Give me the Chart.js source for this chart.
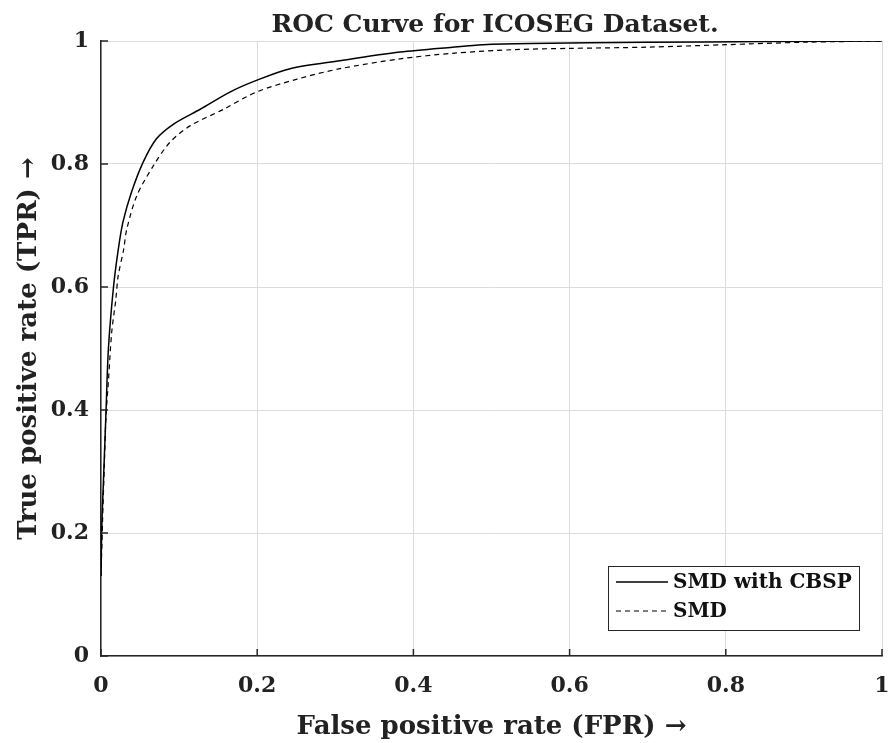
<!DOCTYPE html>
<html>
<head>
<meta charset="utf-8">
<script src="https://cdn.jsdelivr.net/npm/chart.js@4.4.1/dist/chart.umd.min.js"></script>
<style>
html,body{margin:0;padding:0;background:#fff;}
#wrap{width:893px;height:743px;}
</style>
</head>
<body>
<div id="wrap"><canvas id="c" width="893" height="743"></canvas></div>
<script>
const chartTitle = "ROC Curve for ICOSEG Dataset.";
const xTitle = "False positive rate (FPR) \u2192";
const yTitle = "True positive rate (TPR) \u2192";
const seriesNames = ["SMD with CBSP", "SMD"];
const tickValues = [0, 0.2, 0.4, 0.6, 0.8, 1];

const fprCBSP = [0, 0.001, 0.003, 0.0065, 0.0095, 0.016, 0.022, 0.028, 0.039, 0.054, 0.071, 0.093, 0.127, 0.165, 0.199, 0.242, 0.306, 0.383, 0.45, 0.489, 0.55, 0.7, 0.85, 1];
const tprCBSP = [0.13, 0.21, 0.28, 0.40, 0.50, 0.60, 0.66, 0.705, 0.754, 0.803, 0.841, 0.865, 0.889, 0.917, 0.936, 0.955, 0.968, 0.982, 0.99, 0.994, 0.996, 0.998, 0.999, 1];

const fprSMD = [0, 0.002, 0.004, 0.0064, 0.0094, 0.0137, 0.019, 0.022, 0.029, 0.033, 0.046, 0.067, 0.088, 0.114, 0.157, 0.199, 0.251, 0.306, 0.383, 0.45, 0.53, 0.6, 0.7, 0.8, 0.9, 1];
const tprSMD = [0.13, 0.22, 0.30, 0.39, 0.445, 0.526, 0.58, 0.618, 0.661, 0.694, 0.749, 0.797, 0.835, 0.862, 0.889, 0.917, 0.938, 0.955, 0.971, 0.98, 0.986, 0.988, 0.99, 0.994, 0.998, 1];

const FONT = "'DejaVu Serif', serif";
const pts = (xs, ys) => xs.map((x, i) => ({x: x, y: ys[i]}));

const innerTicks = {
  id: 'innerTicks',
  afterDatasetsDraw(chart) {
    const ctx = chart.ctx, a = chart.chartArea;
    const xs = chart.scales.x, ys = chart.scales.y;
    ctx.save();
    ctx.strokeStyle = '#262626';
    ctx.lineWidth = 1.5;
    ctx.beginPath();
    tickValues.forEach(v => {
      const px = xs.getPixelForValue(v);
      ctx.moveTo(px, a.bottom); ctx.lineTo(px, a.bottom - 7);
      const py = ys.getPixelForValue(v);
      ctx.moveTo(a.left, py); ctx.lineTo(a.left + 7, py);
    });
    ctx.stroke();
    // title
    ctx.fillStyle = '#222';
    ctx.font = "bold 25px " + FONT;
    ctx.textAlign = 'center';
    ctx.textBaseline = 'alphabetic';
    ctx.fillText(chartTitle, 495, 32);
    // legend
    const bx = 608, by = 566, bw = 251, bh = 64;
    ctx.fillStyle = '#fff';
    ctx.fillRect(bx, by, bw, bh);
    ctx.strokeStyle = '#262626';
    ctx.lineWidth = 1;
    ctx.strokeRect(bx + 0.5, by + 0.5, bw, bh);
    ctx.font = "bold 20px " + FONT;
    ctx.textAlign = 'left';
    ctx.textBaseline = 'middle';
    chart.data.datasets.forEach((ds, i) => {
      const yy = by + 16 + i * 29;
      ctx.save();
      ctx.strokeStyle = '#000';
      ctx.lineWidth = ds.borderWidth;
      ctx.setLineDash(ds.borderDash || []);
      ctx.beginPath();
      ctx.moveTo(bx + 8, yy); ctx.lineTo(bx + 60, yy);
      ctx.stroke();
      ctx.restore();
      ctx.fillStyle = '#111';
      ctx.fillText(ds.label, bx + 65, yy + 1);
    });
    ctx.restore();
  }
};

new Chart(document.getElementById('c'), {
  type: 'line',
  data: {
    datasets: [
      {label: seriesNames[0], data: pts(fprCBSP, tprCBSP), borderColor: '#000', borderWidth: 1.5, pointRadius: 0, tension: 0.3, fill: false},
      {label: seriesNames[1], data: pts(fprSMD, tprSMD), borderColor: '#000', borderWidth: 1.2, borderDash: [5, 4], pointRadius: 0, tension: 0.3, fill: false}
    ]
  },
  options: {
    responsive: false,
    animation: false,
    layout: {padding: {top: 41, right: 11, left: 0, bottom: 0}},
    plugins: {legend: {display: false}, title: {display: false}, tooltip: {enabled: false}},
    scales: {
      x: {
        type: 'linear', min: 0, max: 1,
        afterBuildTicks: s => { s.ticks = tickValues.map(v => ({value: v})); },
        afterFit: s => { s.height = 87; s.paddingLeft = 0; s.paddingRight = 0; },
        grid: {color: '#dcdcdc', lineWidth: 1, drawTicks: false},
        border: {color: '#262626', width: 1.5},
        ticks: {padding: 17, color: '#222', font: {family: FONT, size: 22, weight: 'bold'}, callback: v => String(v)},
        title: {display: true, text: xTitle, color: '#222', font: {family: FONT, size: 26, weight: 'bold'}, padding: {top: 5, bottom: 0}}
      },
      y: {
        type: 'linear', min: 0, max: 1,
        afterBuildTicks: s => { s.ticks = tickValues.map(v => ({value: v})); },
        afterFit: s => { s.width = 101; s.paddingTop = 0; s.paddingBottom = 0; },
        grid: {color: '#dcdcdc', lineWidth: 1, drawTicks: false},
        border: {color: '#262626', width: 1.5},
        ticks: {padding: 12, color: '#222', font: {family: FONT, size: 22, weight: 'bold'}, callback: v => String(v)},
        title: {display: true, text: yTitle, color: '#222', font: {family: FONT, size: 26, weight: 'bold'}, padding: {top: 14, bottom: 0}}
      }
    }
  },
  plugins: [innerTicks]
});
</script>
</body>
</html>
